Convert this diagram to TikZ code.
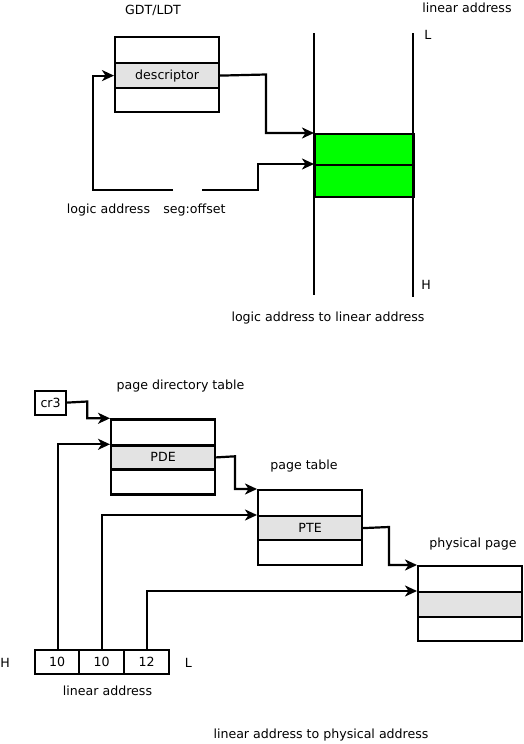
\documentclass[tikz,border=0pt]{standalone}
\usepackage{fontspec}
\setmainfont{DejaVu Sans}
\usetikzlibrary{arrows.meta}
\definecolor{cellgray}{HTML}{E3E3E3}
\definecolor{brightgreen}{HTML}{00FF00}
\begin{document}
\begin{tikzpicture}[x=1pt,y=-1pt,
  every node/.style={font=\fontsize{12.6}{15}\selectfont, inner sep=0pt},
  lbl/.style={anchor=center},
  cell/.style={draw, line width=2.2pt, anchor=north west, minimum width=104pt, inner sep=0pt},
  gcell/.style={cell, fill=cellgray},
  greencell/.style={draw, line width=2.2pt, anchor=north west, fill=brightgreen, minimum width=99pt},
  smallbox/.style={draw, line width=2.2pt, anchor=north west, minimum height=24pt},
  conn/.style={line width=2.2pt},
  arr/.style={conn, -{Stealth[length=12pt,width=11pt,inset=3.5pt]}}
]
\useasboundingbox (0,0) rectangle (523,744);

% ---------------- top: logic address to linear address
\node[lbl] (gdtlbl) at (153,10) {GDT/LDT};
\node[lbl] (linlbl) at (467,8) {linear address};
\node[cell, minimum height=26pt] (gdt1) at (114,36) {};
\node[gcell, minimum height=25pt] (desc) at (114,62) {descriptor};
\node[cell, minimum height=24pt] (gdt3) at (114,87) {};

\coordinate (vl1) at (314,33);
\coordinate (vl2) at (314,295);
\coordinate (vr1) at (413,33);
\coordinate (vr2) at (413,297);
\node[greencell, minimum height=31pt] (g1) at (314,133) {};
\node[greencell, minimum height=32pt] (g2) at (314,164) {};
\draw[conn] (vl1) -- (vl2);
\draw[conn] (vr1) -- (vr2);
\node[lbl] (Ltop) at (428,35) {L};
\node[lbl] (Htop) at (426,285) {H};

\draw[arr] (desc.east) -- (266,74.5) |- (g1.north west);
\coordinate (la1) at (173,190);
\coordinate (la2) at (202,190);
\draw[arr] (la1) -- (93,190) |- (desc.west);
\draw[arr] (la2) -- (258,190) |- (g2.north west);
\node[lbl] (logiclbl) at (108.5,210.5) {logic address};
\node[lbl] (seglbl) at (194.5,210.5) {seg:offset};
\node[lbl] (cap1) at (328,318.5) {logic address to linear address};

% ---------------- bottom: linear address to physical address
\node[smallbox, minimum width=31pt] (cr3) at (34,389.5) {cr3};
\node[lbl] (pdtlbl) at (180.5,386.5) {page directory table};
\node[cell, minimum height=26pt] (pdt1) at (110,418.3) {};
\node[gcell, minimum height=24pt] (pde) at (110,444.3) {PDE};
\node[cell, minimum height=25pt] (pdt3) at (110,468.3) {};

\node[lbl] (ptlbl) at (304,466) {page table};
\node[cell, minimum height=26pt] (pt1) at (257,489) {};
\node[gcell, minimum height=24pt] (pte) at (257,515) {PTE};
\node[cell, minimum height=25pt] (pt3) at (257,539) {};

\node[lbl] (pplbl) at (473,544) {physical page};
\node[cell, minimum height=26pt] (pp1) at (417,565) {};
\node[gcell, minimum height=25pt] (pp2) at (417,591) {};
\node[cell, minimum height=24pt] (pp3) at (417,616) {};

\node[smallbox, minimum width=44pt] (b1) at (34,649) {10};
\node[smallbox, minimum width=45pt] (b2) at (78,649) {10};
\node[smallbox, minimum width=45pt] (b3) at (123,649) {12};
\node[lbl] (Hbot) at (5,663) {H};
\node[lbl] (Lbot) at (188.5,662.5) {L};
\node[lbl] (linlbl2) at (107.5,690.5) {linear address};
\node[lbl] (cap2) at (321,735) {linear address to physical address};

\draw[arr] (cr3.east) -- (87.3,401.5) |- (pdt1.north west);
\draw[arr] ([xshift=1pt]b1.north) |- (pde.north west);
\draw[arr] (pde.east) -- (235,456.3) |- (pt1.north west);
\draw[arr] (b2.north) |- (pte.north west);
\draw[arr] (pte.east) -- (389,527) |- (pp1.north west);
\draw[arr] (b3.north) |- (pp2.north west);
\end{tikzpicture}
\end{document}
